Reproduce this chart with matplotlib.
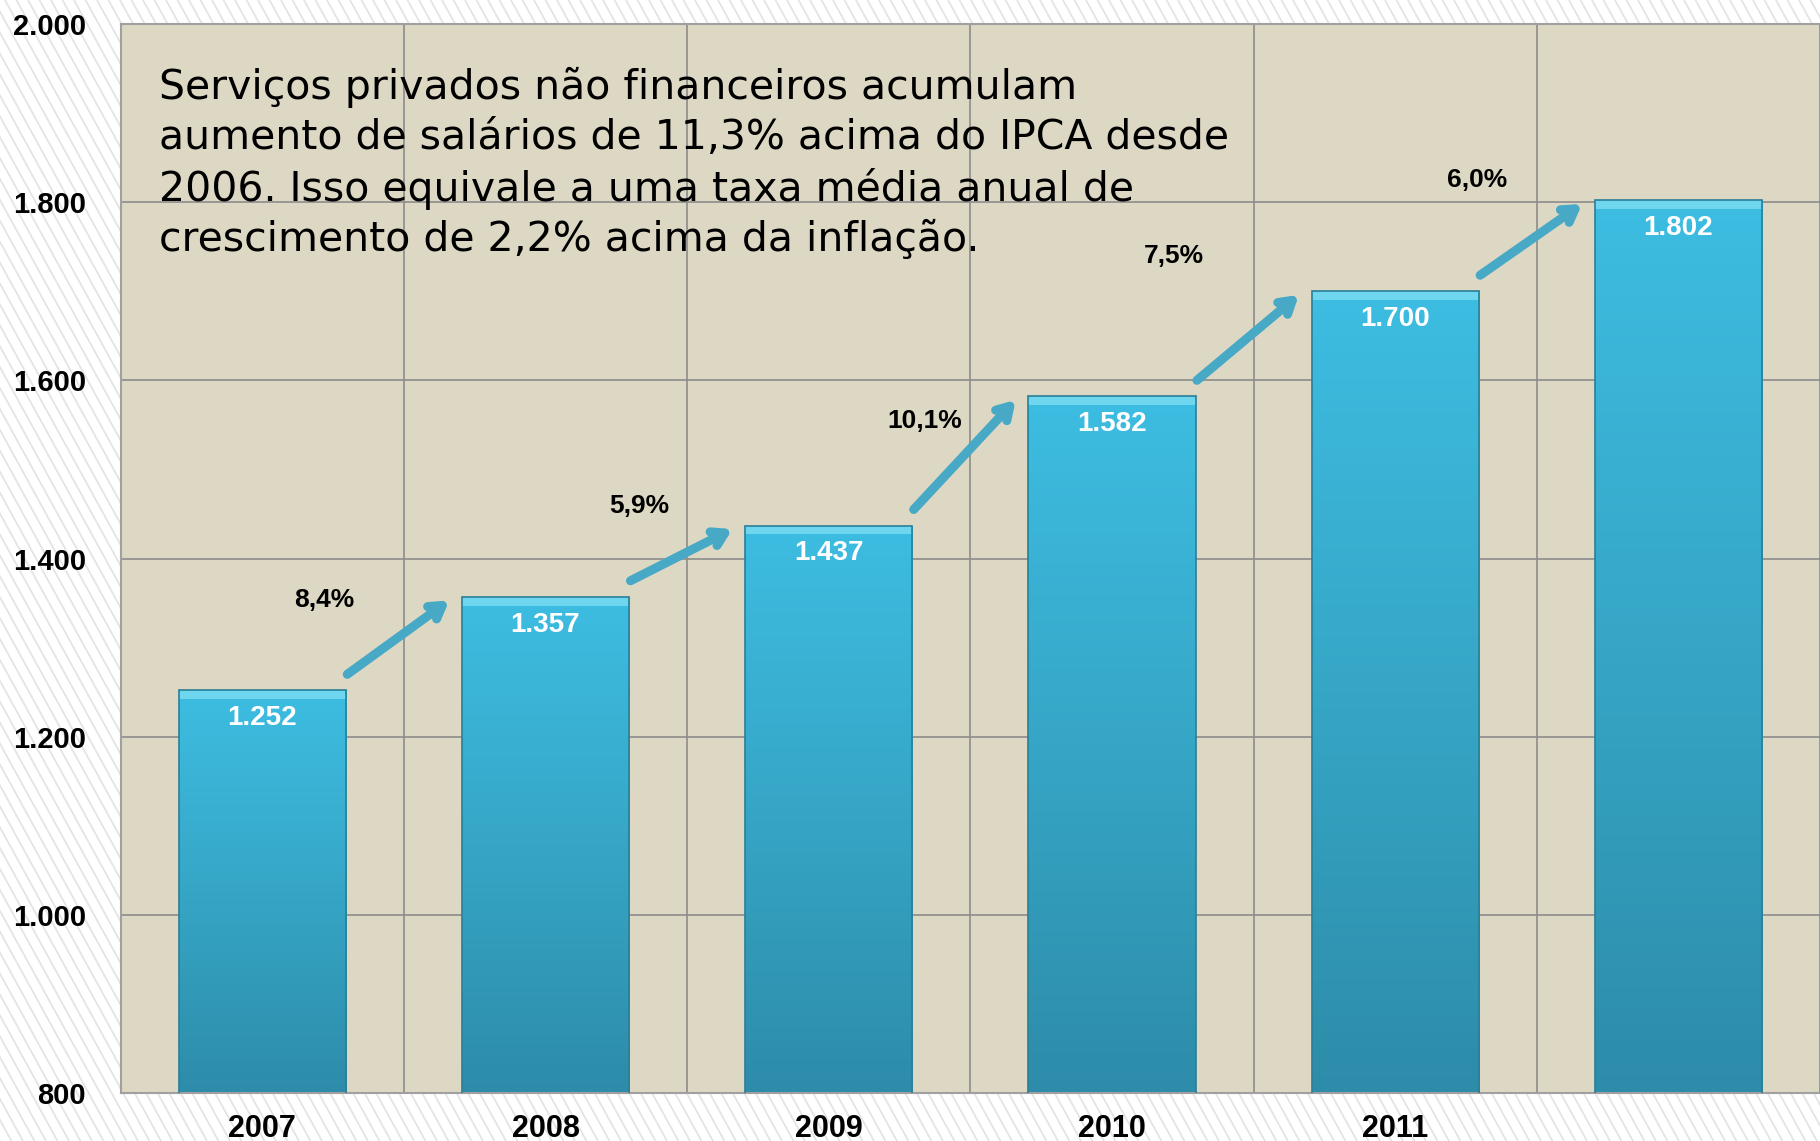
import numpy as np
import matplotlib
matplotlib.use('Agg')
import matplotlib.pyplot as plt
from matplotlib.patches import Rectangle
from matplotlib.collections import LineCollection
from matplotlib.colors import LinearSegmentedColormap
from matplotlib.ticker import FuncFormatter

# dados
anos = ['2007', '2008', '2009', '2010', '2011', '']
salarios = [1252, 1357, 1437, 1582, 1700, 1802]
variacao = ['8,4%', '5,9%', '10,1%', '7,5%', '6,0%']
# posição dos rótulos de variação (x, y em unidades do gráfico)
pos_var = [(0.22, 1353), (1.33, 1459), (2.34, 1554), (3.22, 1740), (4.29, 1825)]
y_ticks = [800, 1000, 1200, 1400, 1600, 1800, 2000]

linhas_texto = ['Serviços privados não financeiros acumulam',
                'aumento de salários de 11,3% acima do IPCA desde',
                '2006. Isso equivale a uma taxa média anual de',
                'crescimento de 2,2% acima da inflação.']

W, H = 1820, 1141
fig = plt.figure(figsize=(W / 100, H / 100), dpi=100)

# fundo listrado
passo, incl = 11.5, 0.55
segs = [[(x0 / W, 1), ((x0 + incl * H) / W, 0)] for x0 in np.arange(-incl * H, W, passo)]
fig.add_artist(LineCollection(segs, colors='#e4e4e4', linewidths=1.3,
                              transform=fig.transFigure, zorder=-5))

ax = fig.add_axes([120.7 / W, 48 / H, 1 - 120.7 / W, (1093 - 24) / H])
ax.set_facecolor('#ddd8c3')

x = np.arange(len(salarios))
largura = 0.59
barras = ax.bar(x, salarios, width=largura, bottom=0, color='none',
                edgecolor='#2b7f98', linewidth=1.2, zorder=3)

# gradiente nas barras
cmap = LinearSegmentedColormap.from_list('barra', ['#2d8ca9', '#36a6c6', '#3dbde2'])
grad = np.linspace(0, 1, 256).reshape(-1, 1)
for b, v in zip(barras, salarios):
    x0 = b.get_x()
    im = ax.imshow(grad, cmap=cmap, origin='lower', aspect='auto',
                   extent=(x0, x0 + largura, 800, v), zorder=2)
    im.set_clip_path(b)
    # brilho no topo
    ax.add_patch(Rectangle((x0, v - 10), largura, 10, facecolor='#6fd6f0',
                           edgecolor='none', zorder=2.5))
    ax.annotate(f'{v / 1000:.3f}', (b.get_x() + largura / 2, v),
                xytext=(0, -20), textcoords='offset points',
                ha='center', va='center', color='white', fontsize=20,
                fontweight='bold', family='Liberation Sans', zorder=5)

# setas de crescimento
for i in range(len(salarios) - 1):
    ax.annotate('', xy=(i + 0.66, salarios[i + 1] - 4),
                xytext=(i + 0.3, salarios[i] + 18),
                arrowprops=dict(arrowstyle='->,head_length=0.9,head_width=0.55',
                                color='#47a9c6', lw=6.5, shrinkA=0, shrinkB=0),
                zorder=4)
    ax.text(pos_var[i][0], pos_var[i][1], variacao[i], ha='center', va='center',
            fontsize=19, fontweight='bold', family='Liberation Sans', zorder=5)

ax.set_xlim(-0.5, 5.462)
ax.set_ylim(800, 2000)
ax.set_yticks(y_ticks)
ax.yaxis.set_major_formatter(FuncFormatter(lambda v, p: f'{int(v):,}'.replace(',', '.')))
ax.set_xticks(x)
ax.set_xticklabels(anos)
ax.set_xticks(np.arange(-0.5, 6, 1), minor=True)
ax.grid(False)
ax.grid(True, which='minor', axis='x', color='#8c8c8c', lw=1.2, zorder=1)
ax.grid(True, which='major', axis='y', color='#8c8c8c', lw=1.2, zorder=1)
ax.set_axisbelow(True)
ax.tick_params(axis='both', which='both', length=0)
ax.tick_params(axis='y', pad=25)
ax.tick_params(axis='x', pad=15)
for lab in ax.get_yticklabels():
    lab.set_fontsize(21)
    lab.set_fontweight('bold')
    lab.set_family('Liberation Sans')
for lab in ax.get_xticklabels():
    lab.set_fontsize(22)
    lab.set_fontweight('bold')
    lab.set_family(['Liberation Sans Narrow', 'Liberation Sans'])
for s in ax.spines.values():
    s.set_color('#a0a0a0')
    s.set_linewidth(1.5)
ax.spines['right'].set_visible(False)

# texto de destaque, uma linha por vez
for k, linha in enumerate(linhas_texto):
    fig.text(159 / W, 1 - (87 + 51 * k) / H, linha, ha='left', va='center',
             fontsize=29.5, family='DejaVu Sans', color='black')

fig.savefig('out.png', dpi=100)
